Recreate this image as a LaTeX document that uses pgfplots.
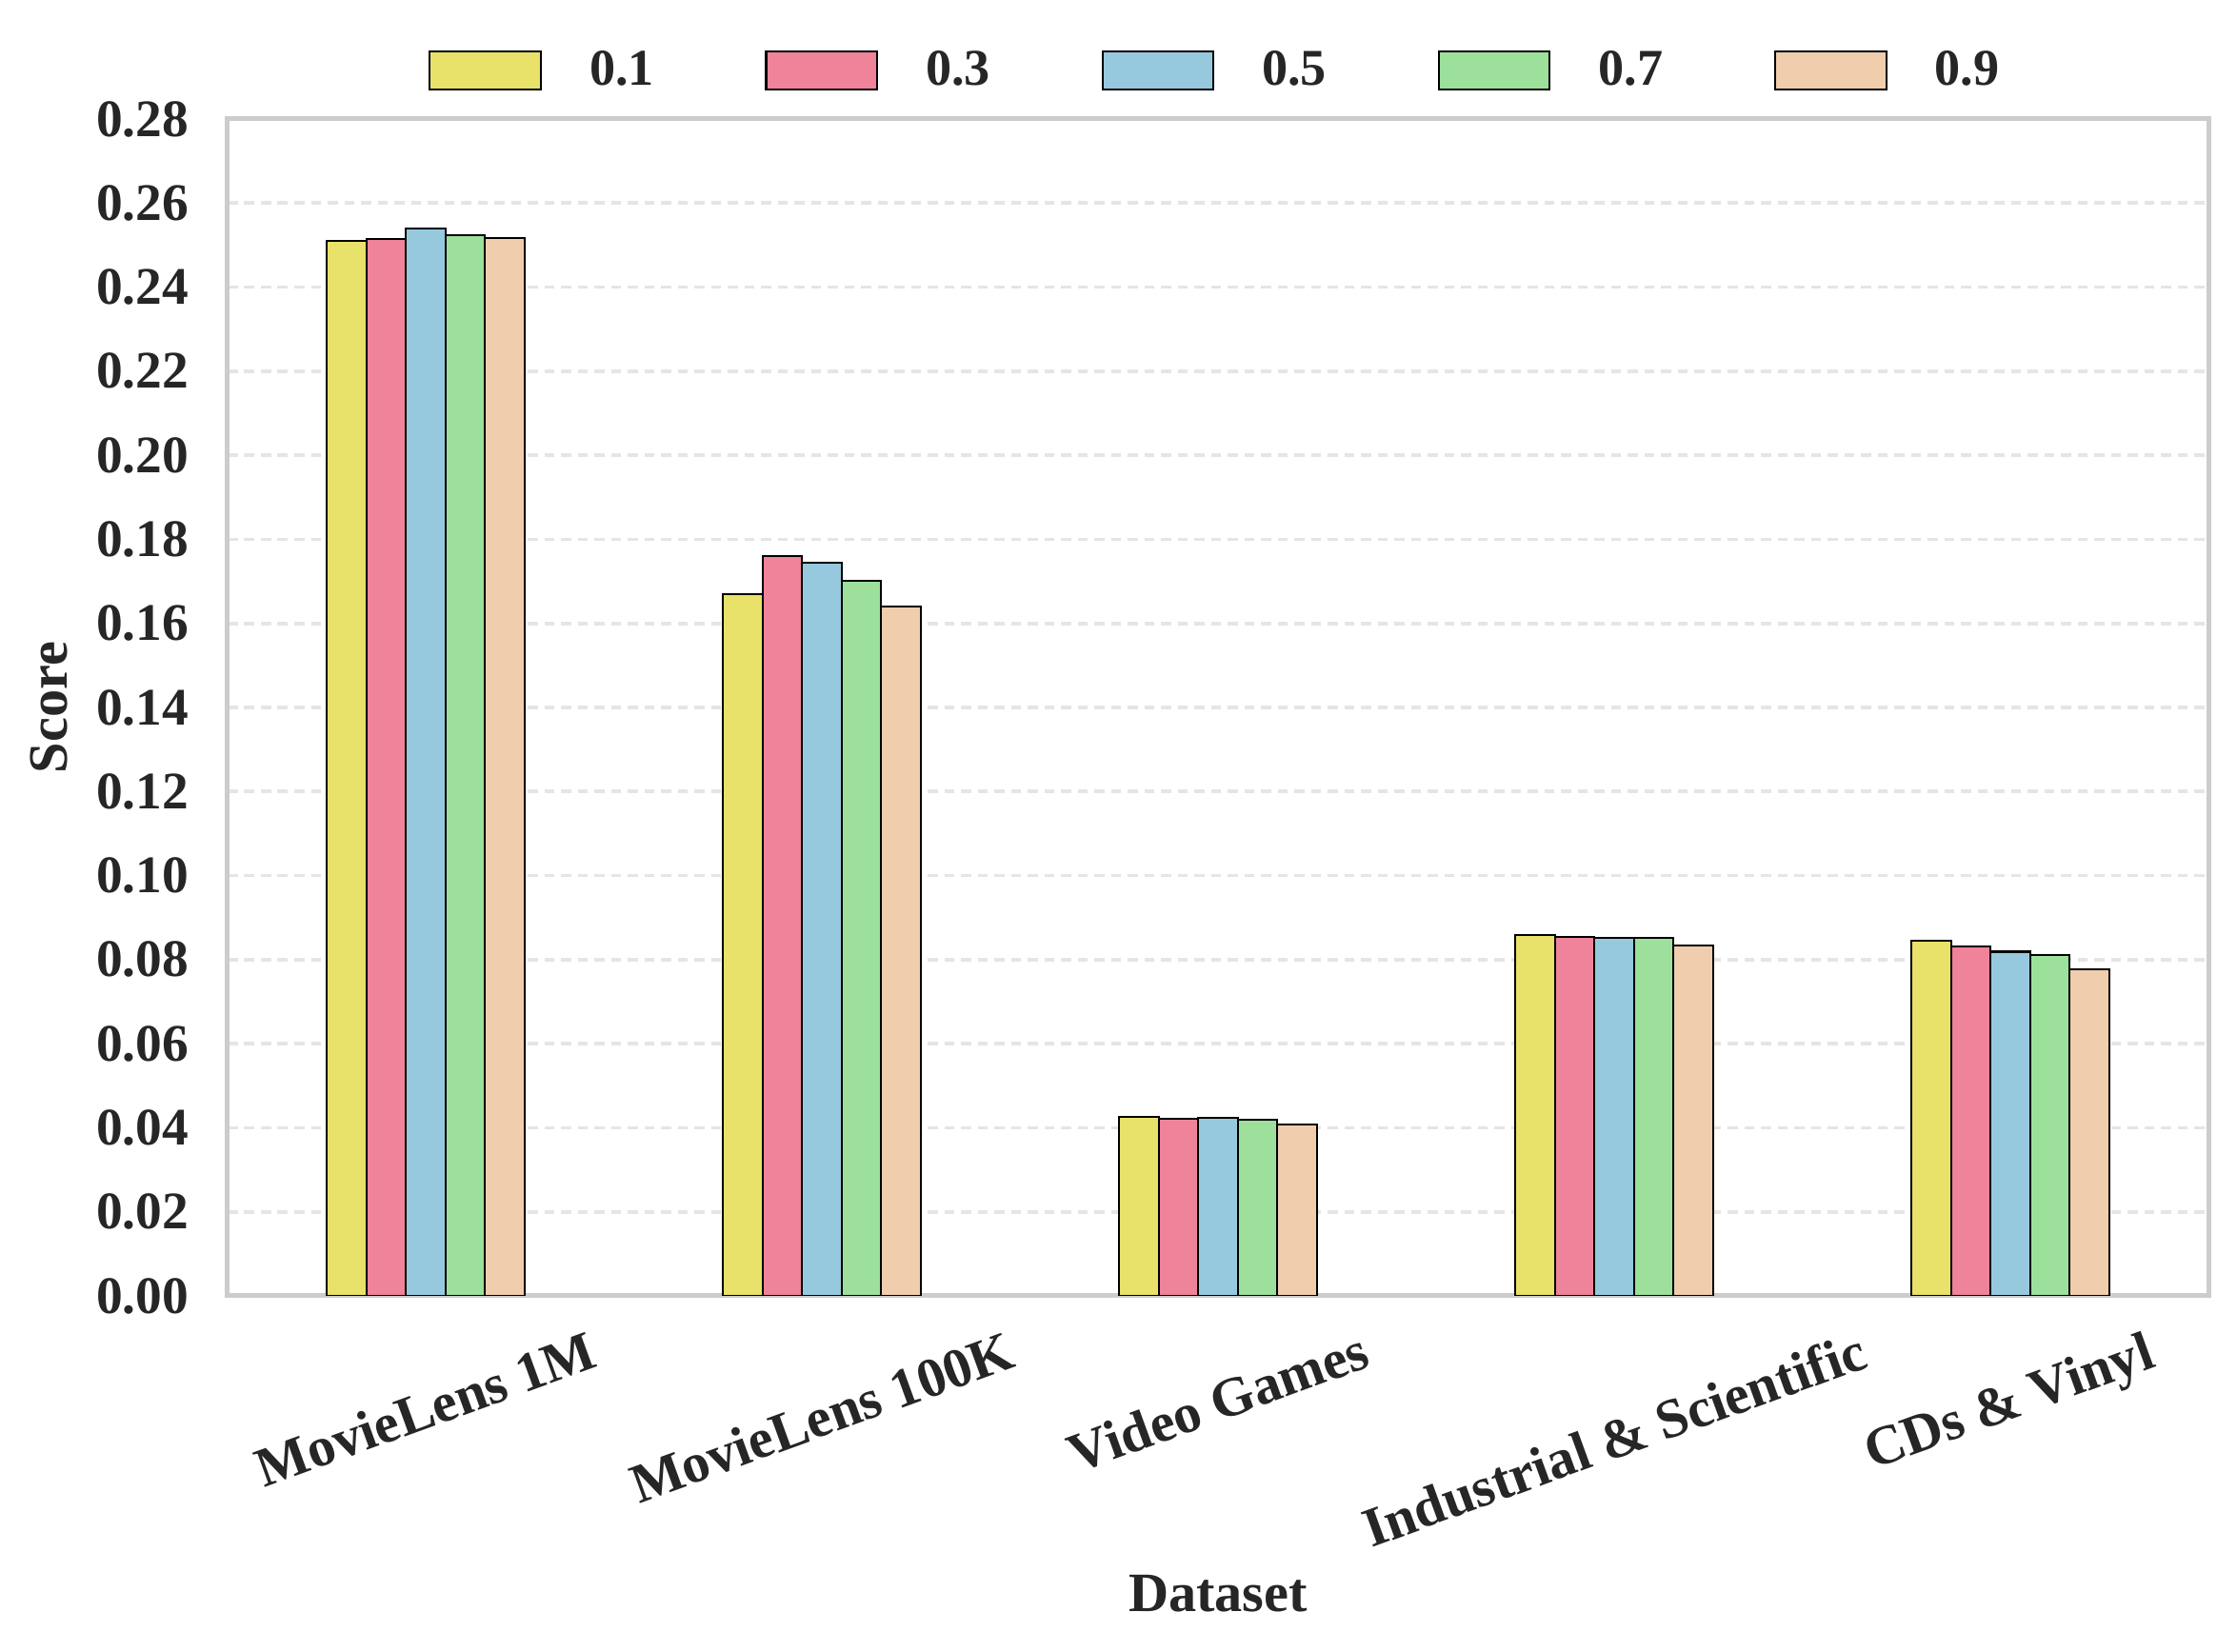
\documentclass[border=0pt]{standalone}
\usepackage{pgfplots}
\pgfplotsset{compat=1.18}
\usepackage{pgfplotstable}
\usepackage{graphicx}
\usepackage{fontspec}
\setmainfont{Liberation Serif}
\definecolor{cA}{HTML}{E8E16A}
\definecolor{cB}{HTML}{EE8399}
\definecolor{cC}{HTML}{96C9DE}
\definecolor{cD}{HTML}{9CE09C}
\definecolor{cE}{HTML}{F0CDAD}
\definecolor{spine}{HTML}{CCCCCC}
\definecolor{gridc}{HTML}{E5E5E5}
\definecolor{textc}{HTML}{262626}
\pgfplotstableread{
x a b c d e
0 0.2509 0.2514 0.2539 0.2523 0.2517
1 0.1670 0.1761 0.1745 0.1702 0.1640
2 0.0426 0.0421 0.0424 0.0420 0.0408
3 0.0858 0.0855 0.0851 0.0851 0.0833
4 0.0844 0.0831 0.0819 0.0811 0.0776
}\data
\begin{document}
\begin{tikzpicture}
\path[use as bounding box] (-57.36pt,-89.76pt) rectangle (506.4pt,326.64pt);
\begin{axis}[
  at={(0,0)}, anchor=south west,
  scale only axis, width=499.2pt, height=296.64pt,
  ybar=0pt, bar width=0.1,
  xmin=-0.5, xmax=4.5, ymin=0, ymax=0.28,
  xtick={0,1,2,3,4},
  xticklabels={\rotatebox{20}{MovieLens 1M},\rotatebox{20}{MovieLens 100K},\rotatebox{20}{Video Games},\rotatebox{20}{Industrial \& Scientific},\rotatebox{20}{CDs \& Vinyl}},
  ytick={0,0.02,...,0.281},
  major tick length=0pt,
  axis line style={draw=spine, line width=1.2pt},
  ymajorgrids,
  grid style={draw=gridc, line width=0.9pt, dash pattern=on 2.6pt off 1.6pt},
  yticklabel style={font=\fontsize{13.3}{15}\selectfont\bfseries, text=textc, anchor=east, xshift=-6.3pt,
    /pgf/number format/.cd, fixed, fixed zerofill, precision=2, assume math mode=true},
  xticklabel style={font=\fontsize{14}{16}\selectfont\bfseries, text=textc, anchor=north, yshift=-5pt},
  scaled y ticks=false,
  xlabel={Dataset}, ylabel={Score},
  label style={font=\fontsize{14}{16}\selectfont\bfseries, text=textc},
  xlabel style={at={(axis description cs:0.5,-0.2532)}, anchor=center},
  ylabel style={at={(axis description cs:-0.0903,0.5)}, anchor=center},
  legend columns=5,
  legend style={at={(0.5,1)}, anchor=center, yshift=12.2pt, draw=none, fill=none,
    font=\fontsize{13}{15}\selectfont\bfseries, text=textc,
    /tikz/every odd column/.append style={column sep=10pt},
    /tikz/every even column/.append style={column sep=26pt}},
  legend image code/.code={\draw[#1, line width=0.5pt] (0pt,-4.85pt) rectangle (28pt,4.85pt);},
  every axis plot/.append style={draw=black, line width=0.5pt},
]
\addplot[fill=cA] table[x=x,y=a]{\data};
\addplot[fill=cB] table[x=x,y=b]{\data};
\addplot[fill=cC] table[x=x,y=c]{\data};
\addplot[fill=cD] table[x=x,y=d]{\data};
\addplot[fill=cE] table[x=x,y=e]{\data};
\legend{0.1,0.3,0.5,0.7,0.9}
\end{axis}
\end{tikzpicture}
\end{document}
